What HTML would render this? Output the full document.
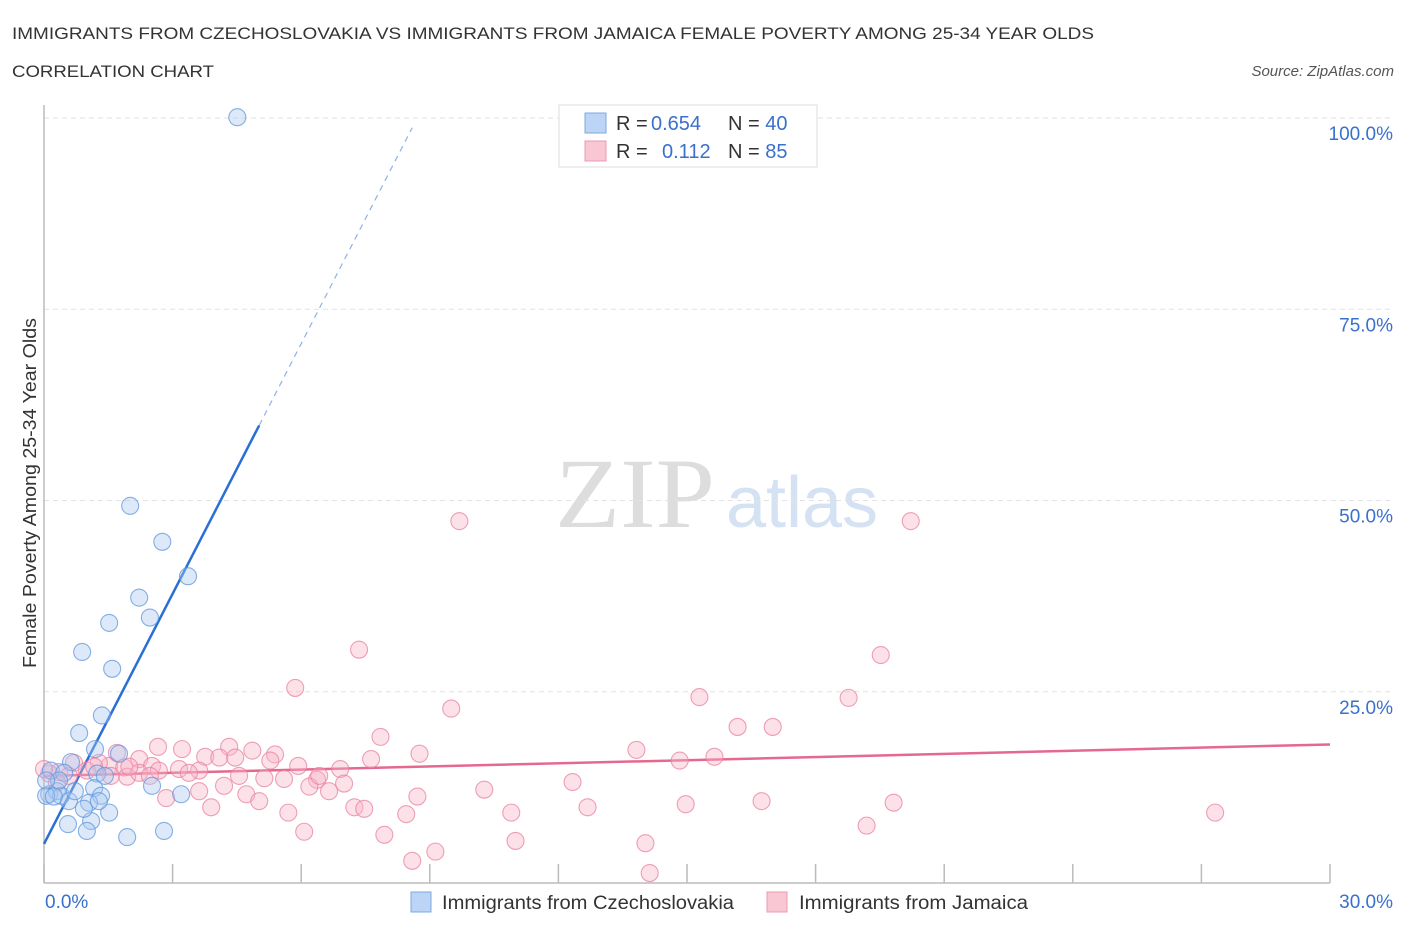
<!DOCTYPE html>
<html><head><meta charset="utf-8"><style>
body{margin:0;background:#fff;font-family:"Liberation Sans",sans-serif}
svg text{font-family:"Liberation Sans",sans-serif}
</style></head><body>
<svg width="1406" height="930" xmlns="http://www.w3.org/2000/svg">
<text x="12" y="39" font-size="17" fill="#333" textLength="1082" lengthAdjust="spacingAndGlyphs">IMMIGRANTS FROM CZECHOSLOVAKIA VS IMMIGRANTS FROM JAMAICA FEMALE POVERTY AMONG 25-34 YEAR OLDS</text>
<text x="12" y="77" font-size="17" fill="#333" textLength="202" lengthAdjust="spacingAndGlyphs">CORRELATION CHART</text>
<text x="1394" y="76" font-size="15" fill="#555" font-style="italic" text-anchor="end">Source: ZipAtlas.com</text>
<g>
<text x="635" y="527" font-size="100" fill="#ddd" text-anchor="middle" textLength="160" lengthAdjust="spacingAndGlyphs" style="font-family:'Liberation Serif',serif">ZIP</text>
<text x="802" y="527" font-size="72" fill="#d5e2f3" text-anchor="middle">atlas</text>
</g>
<g id="grid"></g>
<g id="axes"></g>
<g id="trends"></g>
<g id="pts"></g>
<text x="30" y="499" font-size="18" fill="#333" text-anchor="middle" textLength="350" lengthAdjust="spacingAndGlyphs" transform="rotate(-90 30 493)">Female Poverty Among 25-34 Year Olds</text>
<g>
<rect x="559" y="105" width="258" height="62" fill="#fff" stroke="#ddd"/>
<rect x="585" y="113" width="21" height="20" fill="#bcd4f5" stroke="#7fa8e0"/>
<rect x="585" y="141" width="21" height="20" fill="#f9c6d4" stroke="#eb9ab2"/>
<text x="616" y="130" font-size="20" fill="#333">R = <tspan x="651" fill="#3a70cc">0.654</tspan><tspan x="728">N = </tspan><tspan fill="#3a70cc">40</tspan></text>
<text x="616" y="158" font-size="20" fill="#333">R = <tspan x="662" fill="#3a70cc">0.112</tspan><tspan x="728">N = </tspan><tspan fill="#3a70cc">85</tspan></text>
</g>
<g>
<rect x="411" y="892" width="20" height="20" fill="#bcd4f5" stroke="#7fa8e0"/>
<text x="442" y="909" font-size="19" fill="#333" textLength="292" lengthAdjust="spacingAndGlyphs">Immigrants from Czechoslovakia</text>
<rect x="767" y="892" width="20" height="20" fill="#f9c6d4" stroke="#eb9ab2"/>
<text x="799" y="909" font-size="19" fill="#333" textLength="229" lengthAdjust="spacingAndGlyphs">Immigrants from Jamaica</text>
</g>
</svg>
<script>
const blueX=[4.51,2.01,2.76,3.36,2.22,2.47,1.52,0.89,1.59,1.35,0.82,1.19,1.75,0.63,0.16,0.47,1.24,1.42,0.12,0.30,0.40,0.05,1.17,0.58,1.33,1.05,1.52,0.56,1.10,1.00,1.94,2.80,3.20,2.52,1.28,0.23,0.35,0.72,0.05,0.93];
const blueY=[100.1,49.3,44.6,40.1,37.3,34.7,34.0,30.2,28.0,21.9,19.6,17.5,16.9,15.8,14.7,14.4,14.3,14.0,11.6,12.0,11.4,11.4,12.4,10.7,11.4,10.5,9.2,7.7,8.1,6.8,6.0,6.8,11.6,12.7,10.7,11.3,13.4,12.0,13.4,9.7];
const pinkX=[9.69,20.22,7.35,19.52,5.86,15.29,18.77,9.50,16.18,17.0,7.85,2.66,13.82,3.22,4.32,4.86,5.39,8.76,3.76,4.09,4.46,5.28,5.93,7.63,14.83,15.64,1.70,2.22,1.52,1.28,0.70,0.35,0.12,1.00,1.87,2.52,3.15,3.62,1.94,2.22,5.14,5.60,6.37,6.91,7.00,6.65,6.19,3.62,4.20,4.72,2.85,5.02,3.90,5.70,7.24,7.47,8.71,8.45,10.27,12.33,12.68,10.90,14.97,16.74,19.82,27.32,6.07,7.94,11.0,14.03,19.19,8.59,9.13,14.13,0.0,0.58,1.17,2.68,3.38,1.99,1.56,0.30,4.55,6.42,2.47];
const pinkY=[47.3,47.3,30.5,29.8,25.5,24.3,24.2,22.8,20.4,20.4,19.1,17.8,17.4,17.5,17.8,17.3,16.8,16.9,16.5,16.4,16.4,16.0,15.3,16.2,16.0,16.5,17.0,16.2,15.3,15.7,15.7,14.5,14.3,14.7,15.1,15.3,14.9,14.7,13.9,14.4,13.7,13.6,13.5,14.9,13.0,12.0,12.6,12.0,12.7,11.6,11.1,10.7,9.9,9.2,9.9,9.7,11.3,9.0,12.2,13.2,9.9,9.2,10.3,10.7,10.5,9.2,6.7,6.3,5.5,5.2,7.5,2.9,4.1,1.3,14.9,14.0,15.2,14.7,14.4,15.2,14.0,13.1,14.0,14.0,14.0];
const yTicks=[25,50,75,100];
const yTickLabels=["25.0%","50.0%","75.0%","100.0%"];
const xTicks=[0,3,6,9,12,15,18,21,24,27,30];
const xEndLabels=["0.0%","30.0%"];
const blueTrend=[5.1,10.9]; // intercept, slope
const blueTrendSolidEnd=5.02, blueTrendDashEnd=8.59;
const pinkTrend=[14.0,0.137];

const NS="http://www.w3.org/2000/svg";
const X=v=>44+v/30*1286, Y=v=>883-v*7.65;
function mk(tag,attrs,parent){const e=document.createElementNS(NS,tag);for(const k in attrs)e.setAttribute(k,attrs[k]);parent.appendChild(e);return e;}
const grid=document.getElementById('grid'),axes=document.getElementById('axes'),tr=document.getElementById('trends'),pts=document.getElementById('pts');
yTicks.forEach((t,i)=>{
 const l=mk('line',{x1:44,x2:1392,y1:Y(t),y2:Y(t),stroke:'#e2e2e2','stroke-dasharray':'5,4'},grid);
 
 
 const tx=mk('text',{x:1393,y:Y(t)+22,'font-size':19,fill:'#3a70cc','text-anchor':'end'},axes);
 tx.textContent=yTickLabels[i];
 
 
});
let a=mk('line',{x1:44,x2:44,y1:105,y2:883,stroke:'#bbb','stroke-width':1.5},axes);


a=mk('line',{x1:44,x2:1330,y1:883,y2:883,stroke:'#bbb','stroke-width':1.5},axes);


xTicks.forEach(t=>{const l=mk('line',{x1:X(t),x2:X(t),y1:864,y2:883,stroke:'#bbb','stroke-width':1.5},axes);
 
 });
let t0=mk('text',{x:45,y:908,'font-size':19,fill:'#3a70cc'},axes);t0.textContent=xEndLabels[0];


let t1=mk('text',{x:1393,y:908,'font-size':19,fill:'#3a70cc','text-anchor':'end'},axes);t1.textContent=xEndLabels[1];



function dot(x,y,fill,stroke,name){const c=mk('circle',{cx:X(x),cy:Y(y),r:8.5,fill:fill,'fill-opacity':0.4,stroke:stroke,'stroke-opacity':0.75,'stroke-width':1.1},pts);
 
 }
pinkX.forEach((x,i)=>dot(x,pinkY[i],'#f7b5c8','#e8819f','point-jamaica'));
blueX.forEach((x,i)=>dot(x,blueY[i],'#a9c9f1','#5f95dd','point-czechoslovakia'));

const bf=v=>blueTrend[0]+blueTrend[1]*v, pf=v=>pinkTrend[0]+pinkTrend[1]*v;
let l=mk('line',{x1:X(0),y1:Y(bf(0)),x2:X(blueTrendSolidEnd),y2:Y(bf(blueTrendSolidEnd)),stroke:'#2a6fd6','stroke-width':2.5},tr);


l=mk('line',{x1:X(blueTrendSolidEnd),y1:Y(bf(blueTrendSolidEnd)),x2:X(blueTrendDashEnd),y2:Y(bf(blueTrendDashEnd)),stroke:'#8fb2e6','stroke-width':1.2,'stroke-dasharray':'6,5'},tr);


l=mk('line',{x1:X(0),y1:Y(pf(0)),x2:X(30),y2:Y(pf(30)),stroke:'#e5688f','stroke-width':2.5},tr);


</script>
</body></html>
